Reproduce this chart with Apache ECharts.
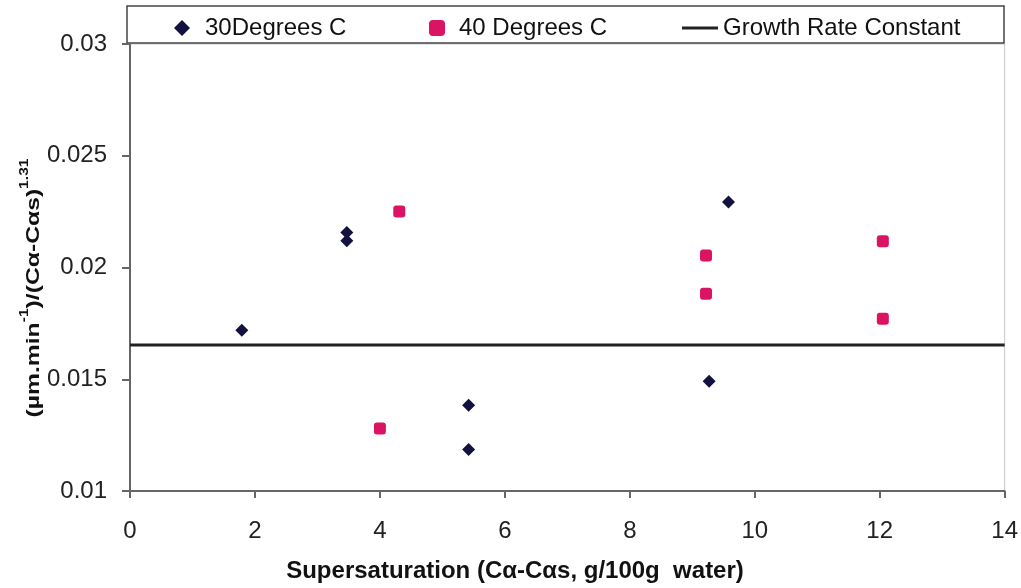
<!DOCTYPE html>
<html>
<head>
<meta charset="utf-8">
<script src="https://cdn.jsdelivr.net/npm/echarts@6/dist/echarts.min.js"></script>
<style>
    html, body { margin: 0; padding: 0; background: #fff; }
    #main { width: 1021px; height: 588px; }
</style>
</head>
<body>
<div id="main"></div>
<script>
// data
const x30 = [1.79, 3.47, 3.47, 5.42, 5.42, 9.27, 9.58];
const y30 = [0.01719, 0.02157, 0.02120, 0.01384, 0.01186, 0.01491, 0.02293];
const x40 = [4.0, 4.31, 9.22, 9.22, 12.05, 12.05];
const y40 = [0.0128, 0.02251, 0.02054, 0.01883, 0.02118, 0.01771];
const growthRate = 0.01653;
const xRange = [0, 14];
const yTicks = ['0.01', '0.015', '0.02', '0.025', '0.03'];

const seriesNames = ['30Degrees C', '40 Degrees C', 'Growth Rate Constant'];
const font = 'Liberation Sans, Arial, sans-serif';

function pairs(xs, ys) {
    return xs.map((x, i) => [x, ys[i]]);
}

var chart = echarts.init(document.getElementById('main'));
var option;

function legendText(gap) {
    return { fontSize: 24, color: '#111', fontFamily: font, padding: [0, 0, 0, gap] };
}

option = {
    backgroundColor: '#fff',
    animation: false,
    textStyle: { fontFamily: font },
    grid: {
        left: 130,
        right: 16,
        top: 44,
        bottom: 97,
        show: true,
        borderColor: '#c8c8c8',
        borderWidth: 1
    },
    // one legend per item so each sits where it does in the picture
    legend: [
        { data: [seriesNames[0]], left: 174, top: 16, padding: 0, itemWidth: 16, itemHeight: 16, textStyle: legendText(10) },
        { data: [seriesNames[1]], left: 429, top: 16, padding: 0, itemWidth: 16, itemHeight: 16, textStyle: legendText(9) },
        { data: [{ name: seriesNames[2], icon: 'rect' }], left: 682, top: 16, padding: 0, itemWidth: 36, itemHeight: 3, textStyle: legendText(0) }
    ],
    xAxis: {
        type: 'value',
        min: xRange[0],
        max: xRange[1],
        interval: 2,
        splitLine: { show: false },
        axisLine: { onZero: false, lineStyle: { color: '#666', width: 2 } },
        axisTick: { show: true, length: 7, lineStyle: { color: '#666', width: 2 } },
        axisLabel: { fontSize: 24, color: '#222', margin: 28 }
    },
    yAxis: {
        type: 'value',
        min: 0.01,
        max: 0.03,
        interval: 0.005,
        splitLine: { show: false },
        axisLine: { show: true, lineStyle: { color: '#666', width: 2 } },
        axisTick: { show: true, length: 8, lineStyle: { color: '#666', width: 2 } },
        axisLabel: {
            fontSize: 24,
            color: '#222',
            margin: 23,
            formatter: function (v) {
                return yTicks[Math.round((v - 0.01) / 0.005)];
            }
        }
    },
    graphic: [
        {
            type: 'rect',
            shape: { x: 127, y: 6, width: 877, height: 37 },
            style: { fill: 'none', stroke: '#444', lineWidth: 1.5 },
            z: 0
        },
        {
            type: 'text',
            x: 515,
            y: 571,
            style: {
                text: 'Supersaturation (C\u03b1-C\u03b1s, g/100g  water)',
                fontSize: 24,
                fontWeight: 'bold',
                fontFamily: font,
                fill: '#111',
                align: 'center',
                verticalAlign: 'middle'
            }
        },
        {
            type: 'text',
            x: 31,
            y: 288,
            rotation: Math.PI / 2,
            scaleX: 1.3,
            style: {
                text: '{b|(\u00b5m.min}{s|-1}{b|)/(C\u03b1-C\u03b1s)}{s|1.31}',
                fontFamily: font,
                fill: '#111',
                align: 'center',
                verticalAlign: 'middle',
                rich: {
                    b: { fontSize: 19, fontWeight: 'bold', lineHeight: 24, verticalAlign: 'bottom', fontFamily: font, fill: '#111' },
                    s: { fontSize: 12, fontWeight: 'bold', lineHeight: 24, verticalAlign: 'top', fontFamily: font, fill: '#111' }
                }
            }
        }
    ],
    series: [
        {
            name: seriesNames[0],
            type: 'scatter',
            symbol: 'diamond',
            symbolSize: 13,
            itemStyle: { color: '#13113f', opacity: 1 },
            data: pairs(x30, y30),
            z: 3
        },
        {
            name: seriesNames[1],
            type: 'scatter',
            symbol: 'roundRect',
            symbolSize: 12,
            itemStyle: { color: '#da1462', opacity: 1 },
            data: pairs(x40, y40),
            z: 3
        },
        {
            name: seriesNames[2],
            type: 'line',
            symbol: 'none',
            lineStyle: { color: '#222', width: 3 },
            itemStyle: { color: '#222' },
            data: [[xRange[0], growthRate], [xRange[1], growthRate]],
            z: 2
        }
    ]
};

chart.setOption(option);
</script>
</body>
</html>
